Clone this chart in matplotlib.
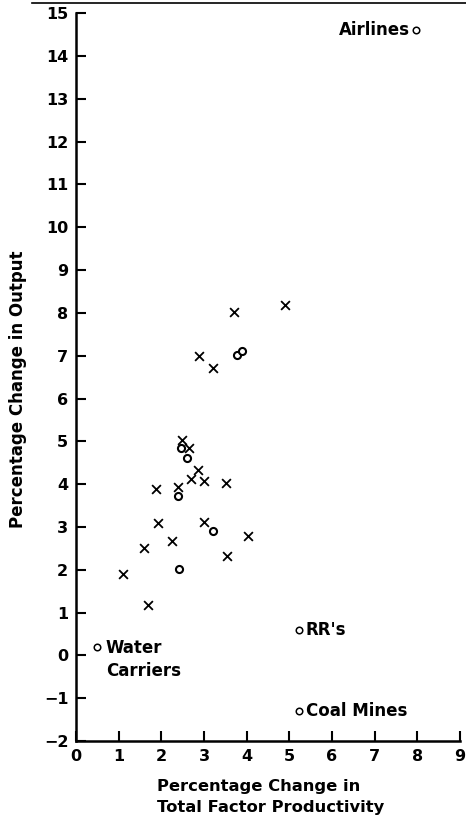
import numpy as np
import matplotlib.pyplot as plt
from matplotlib.lines import Line2D

plt.rcParams['font.family'] = ['DejaVu Sans']
plt.rcParams['font.weight'] = 'bold'

# industries without labels (x markers)
x_tfp = [3.71, 4.91, 2.89, 3.21, 2.49, 2.64, 2.87, 2.69, 3.00, 3.52, 1.88, 2.40,
         1.92, 2.99, 2.24, 4.03, 1.60, 3.54, 1.11, 1.70]
x_out = [8.02, 8.19, 7.00, 6.71, 5.02, 4.84, 4.32, 4.11, 4.08, 4.02, 3.89, 3.93,
         3.10, 3.12, 2.68, 2.79, 2.50, 2.31, 1.89, 1.18]

# transport / regulated industries (circles)
o_tfp = [3.77, 3.89, 2.46, 2.60, 2.38, 3.21, 2.41]
o_out = [7.01, 7.10, 4.84, 4.60, 3.73, 2.91, 2.02]

# labelled circles
lab_names = ['Airlines', "RR's", 'Water\nCarriers', 'Coal Mines']
lab_tfp = [7.98, 5.22, 0.49, 5.22]
lab_out = [14.61, 0.59, 0.20, -1.30]

fig = plt.figure(figsize=(4.66, 8.22), dpi=100)
ax = fig.add_axes([0.163, 0.0985, 0.824, 0.8855])

ax.scatter(x_tfp, x_out, marker='x', s=40, color='black', linewidths=1.3)
ax.scatter(o_tfp, o_out, marker='o', s=26, facecolors='white', edgecolors='black', linewidths=1.5)
ax.scatter(lab_tfp, lab_out, marker='o', s=22, facecolors='white', edgecolors='black', linewidths=1.1)

# labels next to points
ax.annotate(lab_names[0], (lab_tfp[0], lab_out[0]), xytext=(-4.5, 0), textcoords='offset points',
            ha='right', va='center', fontsize=12)
ax.annotate(lab_names[1], (lab_tfp[1], lab_out[1]), xytext=(5, 0), textcoords='offset points',
            ha='left', va='center', fontsize=12)
ax.annotate(lab_names[2], (lab_tfp[2], lab_out[2]), xytext=(6.5, 6), textcoords='offset points',
            ha='left', va='top', fontsize=12, linespacing=1.4)
ax.annotate(lab_names[3], (lab_tfp[3], lab_out[3]), xytext=(5, 0), textcoords='offset points',
            ha='left', va='center', fontsize=12)

ax.set_xlim(0, 9)
ax.set_ylim(-2, 15)
ax.set_xticks(np.arange(0, 10))
ax.set_yticks(np.arange(-2, 16))
ax.spines['top'].set_visible(False)
ax.spines['right'].set_visible(False)
ax.spines['left'].set_linewidth(1.8)
ax.spines['bottom'].set_linewidth(1.8)
ax.tick_params(direction='in', length=7, width=1.5, labelsize=11.5, pad=5.5)

fig.text(157 / 466, 1 - 797 / 822, 'Percentage Change in\nTotal Factor Productivity',
         ha='left', va='center', fontsize=11.8, linespacing=1.45)
fig.text(18 / 466, 1 - 389 / 822, 'Percentage Change in Output', rotation=90,
         ha='center', va='center', fontsize=12)

fig.add_artist(Line2D([0.068, 1.0], [0.996, 0.996], color='black', lw=1.2, transform=fig.transFigure))

fig.savefig('out.png', dpi=100)
